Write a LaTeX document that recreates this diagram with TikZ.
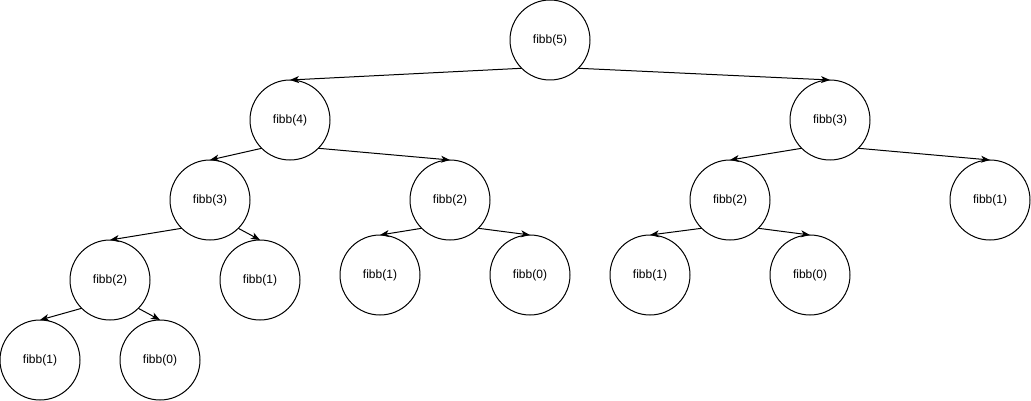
\documentclass[tikz,border=0pt]{standalone}
\usepackage{fontspec}
\setmainfont{Liberation Sans}
\usetikzlibrary{arrows.meta, positioning}

\begin{document}
\begin{tikzpicture}[
        fib/.style={draw=black, circle, line width=1pt, minimum size=80pt, inner sep=0pt, outer sep=0pt, font=\fontsize{12}{14}\selectfont},
        arrow/.style={-{Stealth[length=9pt, width=7pt, inset=2.5pt]}, line width=1pt, draw=black}
    ]
        \useasboundingbox (0pt,-401pt) rectangle (1031pt,0pt);

        % 1. Raiz
        \node[fib] (f5) at (550pt,-40pt) {fibb(5)};

        % 2. Segundo nivel
        \node[fib, below=0pt of f5, xshift=-260pt] (f4) {fibb(4)};
        \node[fib, below=0pt of f5, xshift=280pt] (f3r) {fibb(3)};

        % 3. Terceiro nivel
        \node[fib, below=0pt of f4, xshift=-80pt] (f3l) {fibb(3)};
        \node[fib, below=0pt of f4, xshift=160pt] (f2m) {fibb(2)};
        \node[fib, below=0pt of f3r, xshift=-100pt] (f2r) {fibb(2)};
        \node[fib, below=0pt of f3r, xshift=160pt] (f1r) {fibb(1)};

        % 4. Quarto nivel
        \node[fib, below=0pt of f3l, xshift=-100pt] (f2l) {fibb(2)};
        \node[fib, below=0pt of f3l, xshift=50pt] (f1a) {fibb(1)};
        \node[fib, below=-5pt of f2m, xshift=-70pt] (f1b) {fibb(1)};
        \node[fib, below=-5pt of f2m, xshift=80pt] (f0b) {fibb(0)};
        \node[fib, below=-5pt of f2r, xshift=-80pt] (f1c) {fibb(1)};
        \node[fib, below=-5pt of f2r, xshift=80pt] (f0c) {fibb(0)};

        % 5. Ultimo nivel
        \node[fib, below=0pt of f2l, xshift=-70pt] (f1d) {fibb(1)};
        \node[fib, below=0pt of f2l, xshift=50pt] (f0d) {fibb(0)};

        % Chamadas recursivas (sai pela diagonal, entra por cima)
        \draw[arrow] (f5.south west) -- (f4.north);
        \draw[arrow] (f5.south east) -- (f3r.north);

        \draw[arrow] (f4.south west) -- (f3l.north);
        \draw[arrow] (f4.south east) -- (f2m.north);
        \draw[arrow] (f3r.south west) -- (f2r.north);
        \draw[arrow] (f3r.south east) -- (f1r.north);

        \draw[arrow] (f3l.south west) -- (f2l.north);
        \draw[arrow] (f3l.south east) -- (f1a.north);
        \draw[arrow] (f2m.south west) -- (f1b.north);
        \draw[arrow] (f2m.south east) -- (f0b.north);
        \draw[arrow] (f2r.south west) -- (f1c.north);
        \draw[arrow] (f2r.south east) -- (f0c.north);

        \draw[arrow] (f2l.south west) -- (f1d.north);
        \draw[arrow] (f2l.south east) -- (f0d.north);

    \end{tikzpicture}
\end{document}
